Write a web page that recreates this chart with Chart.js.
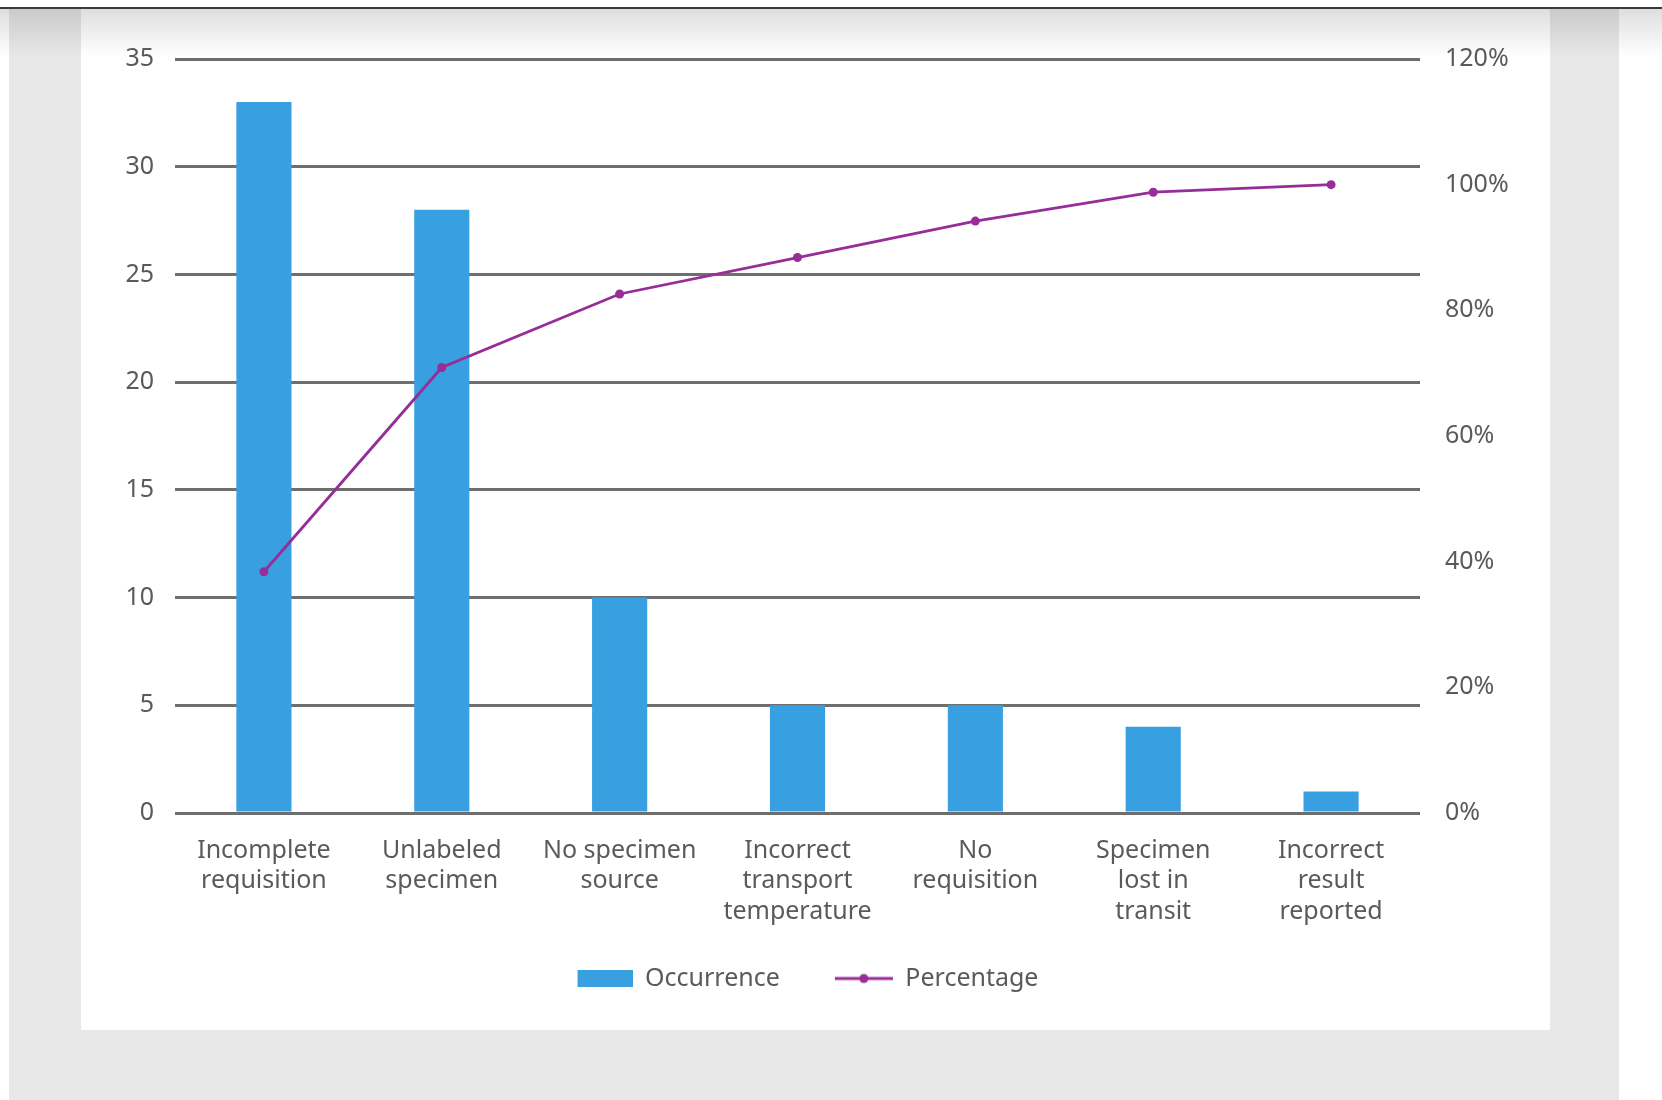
<!DOCTYPE html>
<html>
<head>
<meta charset="utf-8">
<script src="https://cdn.jsdelivr.net/npm/chart.js@4.4.1/dist/chart.umd.min.js"></script>
<style>
  html, body { margin: 0; padding: 0; background: #ffffff; }
  #page { position: relative; width: 1662px; height: 1100px; overflow: hidden; }
  #gray { position: absolute; left: 9px; top: 8px; width: 1610px; height: 1092px; background: #e8e8e8; }
  #panel { position: absolute; left: 81px; top: 8px; width: 1469px; height: 1022px; background: #ffffff; }
  #shade { position: absolute; left: 0; top: 7px; width: 1662px; height: 48px;
           border-top: 2px solid #3a3a3a;
           background: linear-gradient(to bottom, rgba(0,0,0,0.13), rgba(0,0,0,0)); }
  #wrap { position: absolute; left: 0; top: 0; width: 1662px; height: 1100px; }
</style>
</head>
<body>
<div id="page">
  <div id="gray"></div>
  <div id="panel"></div>
  <div id="shade"></div>
  <div id="wrap"><canvas id="chart_pareto"></canvas></div>
</div>
<script>
var categories = [
    ['Incomplete', 'requisition'],
    ['Unlabeled', 'specimen'],
    ['No specimen', 'source'],
    ['Incorrect', 'transport', 'temperature'],
    ['No', 'requisition'],
    ['Specimen', 'lost in', 'transit'],
    ['Incorrect', 'result', 'reported']
];
var occurrence = [33, 28, 10, 5, 5, 4, 1];
var percentage = [38.4, 70.9, 82.6, 88.4, 94.2, 98.8, 100];
var leftTicks = [0, 5, 10, 15, 20, 25, 30, 35];
var rightTicks = [0, 20, 40, 60, 80, 100, 120];

var barColor = '#389fe0';
var lineColor = '#962d98';
var textColor = '#5a5a5a';
var gridColor = '#6e6e6e';
var font = { family: "'Noto Sans', sans-serif", size: 25, lineHeight: 1.23 };

// legend icons, drawn right-aligned so the blank left part widens the gap between items
var iconW = 78;
function barIcon() {
    var c = document.createElement('canvas');
    c.width = iconW; c.height = 17;
    var g = c.getContext('2d');
    g.fillStyle = barColor;
    g.fillRect(iconW - 55, 0, 55, 17);
    return c;
}
function lineIcon() {
    var c = document.createElement('canvas');
    c.width = iconW; c.height = 12;
    var g = c.getContext('2d');
    g.strokeStyle = lineColor;
    g.lineWidth = 2.8;
    g.beginPath();
    g.moveTo(iconW - 58, 6); g.lineTo(iconW, 6);
    g.stroke();
    g.fillStyle = lineColor;
    g.beginPath();
    g.arc(iconW - 29, 6, 4.5, 0, Math.PI * 2);
    g.fill();
    return c;
}
var icons = [barIcon(), lineIcon()];

var chart_pareto = new Chart(document.getElementById('chart_pareto'), {
    type: 'bar',
    data: {
        labels: categories,
        datasets: [
            {
                label: 'Occurrence',
                data: occurrence,
                backgroundColor: barColor,
                borderWidth: 0,
                categoryPercentage: 1,
                barPercentage: 0.31,
                yAxisID: 'y',
                order: 1
            },
            {
                type: 'line',
                label: 'Percentage',
                data: percentage,
                borderColor: lineColor,
                backgroundColor: lineColor,
                borderWidth: 2.8,
                pointRadius: 4.5,
                pointHoverRadius: 4.5,
                pointBorderWidth: 0,
                tension: 0,
                yAxisID: 'y1',
                order: 0
            }
        ]
    },
    options: {
        animation: false,
        responsive: true,
        maintainAspectRatio: false,
        layout: {
            padding: { top: 59, left: 0, right: 69, bottom: 99 }
        },
        plugins: {
            tooltip: { enabled: false },
            legend: {
                position: 'bottom',
                labels: {
                    usePointStyle: true,
                    pointStyleWidth: iconW,
                    padding: 35,
                    color: textColor,
                    font: font,
                    generateLabels: function(chart) {
                        return chart.data.datasets.map(function(ds, i) {
                            return {
                                text: ds.label,
                                pointStyle: icons[i],
                                fillStyle: 'transparent',
                                strokeStyle: 'transparent',
                                lineWidth: 0,
                                fontColor: textColor,
                                datasetIndex: i
                            };
                        });
                    }
                }
            }
        },
        scales: {
            x: {
                grid: { display: false, drawTicks: false },
                border: { display: false },
                ticks: {
                    color: textColor,
                    font: font,
                    padding: 22,
                    maxRotation: 0,
                    autoSkip: false
                },
                afterFit: function(scale) { scale.height = 118; }
            },
            y: {
                position: 'left',
                min: 0,
                max: 35,
                afterBuildTicks: function(scale) {
                    scale.ticks = leftTicks.map(function(v) { return { value: v }; });
                },
                grid: { color: gridColor, lineWidth: 3, drawTicks: false },
                border: { display: false },
                ticks: { color: textColor, font: font, padding: 21 },
                afterFit: function(scale) { scale.width = 175; }
            },
            y1: {
                position: 'right',
                min: 0,
                max: 120,
                afterBuildTicks: function(scale) {
                    scale.ticks = rightTicks.map(function(v) { return { value: v }; });
                },
                grid: { display: false, drawTicks: false },
                border: { display: false },
                ticks: {
                    color: textColor,
                    font: font,
                    padding: 25,
                    callback: function(value) { return value + '%'; }
                },
                afterFit: function(scale) { scale.width = 173; }
            }
        }
    }
});
</script>
</body>
</html>
